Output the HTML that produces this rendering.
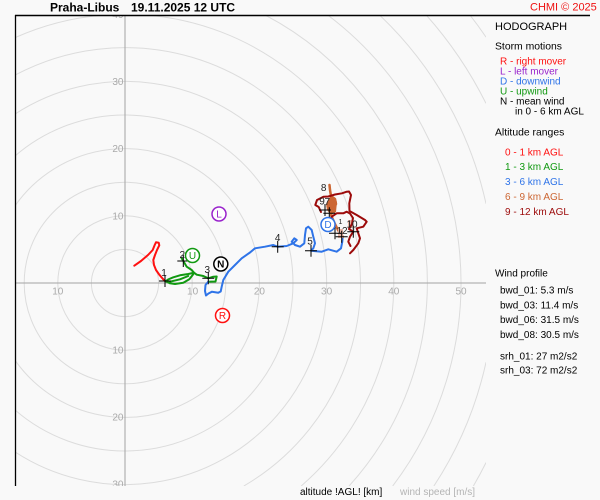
<!DOCTYPE html>
<html><head><meta charset="utf-8"><style>
html,body{margin:0;padding:0;background:#f9f9f9;width:600px;height:500px;overflow:hidden;}
svg{display:block;font-family:"Liberation Sans",sans-serif;}
</style></head><body>
<svg width="600" height="500" viewBox="0 0 600 500" xmlns="http://www.w3.org/2000/svg">
<rect width="600" height="500" fill="#f9f9f9"/>
<defs><clipPath id="c"><rect x="15" y="15" width="471" height="471"/></clipPath></defs>
<g clip-path="url(#c)" fill="none" stroke="#dcdcdc" stroke-width="1">
<circle cx="125" cy="283" r="33.6"/><circle cx="125" cy="283" r="67.2"/><circle cx="125" cy="283" r="100.8"/>
<path d="M15,205.8 A134.4,134.4 0 1 1 15,360.2"/>
<path d="M15,156 A168,168 0 1 1 15,410"/>
<path d="M15,114.1 A201.6,201.6 0 1 1 15,451.9"/>
<path d="M15,75.1 A235.2,235.2 0 0 1 243.8,486"/>
<path d="M15,37.7 A268.8,268.8 0 0 1 104.3,15"/>
<path d="M145.7,15 A268.8,268.8 0 0 1 301.2,486"/>
<path d="M265.1,15 A302.4,302.4 0 0 1 349.1,486"/>
<path d="M327.7,15 A336,336 0 0 1 392.7,486"/>
<path d="M379.5,15 A369.6,369.6 0 0 1 486,203.7"/>
<path d="M486,362.3 A369.6,369.6 0 0 1 433.9,486"/>
<path d="M426.2,15 A403.2,403.2 0 0 1 486,103.4"/>
<path d="M486,462.6 A403.2,403.2 0 0 1 473.4,486"/>
<path d="M469.9,15 A436.8,436.8 0 0 1 486,37.1"/>
</g>
<g clip-path="url(#c)">
<line x1="15" y1="283" x2="486" y2="283" stroke="#a4a4a4" stroke-width="1"/>
<line x1="125" y1="15" x2="125" y2="486" stroke="#a4a4a4" stroke-width="1"/>
<g font-size="10" fill="#aaaaaa">
<g text-anchor="middle">
<text x="57.8" y="294.5">10</text><text x="192.6" y="294.5">10</text><text x="259.4" y="294.5">20</text>
<text x="326.6" y="294.5">30</text><text x="393.8" y="294.5">40</text><text x="461" y="294.5">50</text>
</g>
<g text-anchor="end">
<text x="123.5" y="18">40</text><text x="123.5" y="85">30</text><text x="123.5" y="152">20</text><text x="123.5" y="219.3">10</text>
<text x="123.5" y="353.5">10</text><text x="123.5" y="420.5">20</text><text x="123.5" y="487.5">30</text>
</g>
</g>
</g>
<!-- frame -->
<line x1="15.5" y1="15" x2="15.5" y2="486" stroke="#000" stroke-width="1.3"/>
<line x1="15" y1="15.5" x2="590" y2="15.5" stroke="#000" stroke-width="1.4"/>

<!-- traces -->
<g fill="none" stroke-linejoin="round" stroke-linecap="round">
<path stroke="#ff1111" stroke-width="2" d="M134.3,265.7 L141,261 L148,255 L152.7,250 L154.7,245 L156,242.3 L158.7,242.7 L159.3,245.3 L157,250 L155,255 L153.3,260 L154,265 L156,270 L159.3,274.7 L163,279 L165,281"/>
<path stroke="#119911" stroke-width="2" d="M165,281 L170,283.3 L175,284 L183.3,282.7 L189.3,279.3 L192.7,275 L194,272.7 L188.3,274 L180,275.3 L173.3,277.3 L168,279.5 L166,281 M170,281.7 L180,279.3 L188.3,276 M181.5,258 L183.3,261 L186.7,266.7 L191.7,270 L194,272.7 L196.7,274.7 L203.3,276 L208.3,278.3 L213.3,276.7 L216.7,276.5 L215.5,281.5 L208.3,281.7"/>
<path stroke="#2f74e8" stroke-width="2" d="M208.3,281.7 L205.5,285 L205,291 L206,295.5 L208.5,293.5 L212,291.7 L218.3,292.7 L220.7,291.5 L221.7,286.7 L223.3,280 L228.3,271.7 L235,265 L241.7,258.3 L250,252.5 L255,248.3 L265,246.7 L273.3,245 L277.7,246.7 L286.7,246 L293.3,243.3 L296.7,240 L294.3,238.3 L291.7,241.7 L295,245 L300,246.7 L304.3,243.3 L305,235 L306,228.3 L308.3,226.7 L311.7,230 L313.3,236.7 L315,243.3 L313.3,248.3 L311,250.7 L321.7,251.7 L328.3,249.3 L336.7,251.7 L341,248.3 L342.3,241.7 L342.7,236.7"/>
<path stroke="#cc6633" stroke-width="2.5" d="M342.7,236.7 L338,230 L334,222 L331,215 L333,209 L336,204 L335,199 L331,196 L330,190 L329.5,185"/>
<path fill="#cc6633" stroke="none" d="M326,204 L330,197 L334,197 L337,202 L336,212 L331,215 L327,210 Z"/>
<rect x="348" y="220" width="5" height="8" fill="#e8b4a4"/>
<rect x="338" y="229" width="5" height="9" fill="#e8b4a4"/>
<path stroke="#9c0a0a" stroke-width="2" d="M350,253.3 L353.3,250 L358.3,243.3 L360,238.3 L358.3,233.3 L356.7,228.3 L363.3,226.7 L366.7,221.7 L365,220 L356.7,215 L349.5,211 L349.3,203.3 L351,195 L349,191.5 L346.7,191.7 L342,193.3 L335,194.5 L328.3,196.5 L323.7,196.7 L317,200 L315.3,205 L318.7,207 L321,212"/>
<path stroke="#9c0a0a" stroke-width="2" d="M330,221.7 L331.7,216.7 L336.7,213.3 L343.3,213.3 L346.7,211.7 L350,213.5 L353,218 L352,224 L349,229 L353.3,231.7 L350,236.7 L348.3,241.7 L350.5,246"/>
</g>

<!-- crosses -->
<g stroke="#000" stroke-width="1">
<path d="M159,281 h12 M165,275 v12"/>
<path d="M177.3,261 h12 M183.3,255 v12"/>
<path d="M202.3,278.3 h12 M208.3,272.3 v12"/>
<path d="M271.7,246.7 h12 M277.7,240.7 v12"/>
<path d="M305,250.7 h12 M311,244.7 v12"/>
<path d="M319,210 h12 M325,204 v12"/>
<path d="M323.3,213.3 h12 M329.3,207.3 v12"/>
<path d="M329,233.3 h12 M335,227.3 v12"/>
<path d="M335.7,236.7 h12 M341.7,230.7 v12"/>
<path d="M347.3,231.7 h12 M353.3,225.7 v12"/>
</g>
<g font-size="10" fill="#222" text-anchor="middle">
<text x="164" y="276">1</text>
<text x="182.3" y="258">2</text>
<text x="207.3" y="273">3</text>
<text x="277.7" y="241">4</text>
<text x="310" y="244.5">5</text>
<text x="323.7" y="191">8</text>
<text x="322" y="204.3">9</text>
<text x="327.3" y="205">7</text>
<text x="340.5" y="224" font-size="7">1</text>
<text x="352" y="227.5">10</text>
<text x="342" y="234">12</text>
</g>

<!-- storm motion markers -->
<g stroke-width="1.5" fill="#fff" font-size="10" text-anchor="middle">
<circle cx="222.5" cy="315.5" r="7" stroke="#ff1111"/><text x="222.5" y="319.2" fill="#ff1111" stroke="none">R</text>
<circle cx="219" cy="214" r="7" stroke="#9922cc"/><text x="219" y="217.7" fill="#9922cc" stroke="none">L</text>
<circle cx="328" cy="224.5" r="7" stroke="#2f74e8"/><text x="328" y="228.2" fill="#2f74e8" stroke="none">D</text>
<circle cx="192.5" cy="255.5" r="7" stroke="#119911"/><text x="192.5" y="259.2" fill="#119911" stroke="none">U</text>
<circle cx="220.8" cy="264" r="7" stroke="#000"/><text x="220.8" y="267.7" fill="#000" stroke="none" font-weight="bold">N</text>
</g>

<!-- title -->
<text x="50" y="11.5" font-size="12" font-weight="bold" fill="#000">Praha-Libus</text>
<text x="131" y="11.5" font-size="12" font-weight="bold" fill="#000">19.11.2025 12 UTC</text>
<text x="530" y="10.7" font-size="11" fill="#ee1111">CHMI © 2025</text>

<!-- legend -->
<text x="495" y="30" font-size="11" fill="#000">HODOGRAPH</text>
<text x="495" y="49.5" font-size="10.4" fill="#000">Storm motions</text>
<g font-size="10">
<text x="500" y="64.5" fill="#ff1111">R - right mover</text>
<text x="500" y="74.5" fill="#9922cc">L - left mover</text>
<text x="500" y="84.5" fill="#2f74e8">D - downwind</text>
<text x="500" y="94.5" fill="#119911">U - upwind</text>
<text x="500" y="104.5" fill="#000">N - mean wind</text>
<text x="515" y="114.5" fill="#000">in 0 - 6 km AGL</text>
</g>
<text x="495" y="135.5" font-size="10.4" fill="#000">Altitude ranges</text>
<g font-size="10">
<text x="505" y="155.5" fill="#ff1111">0 - 1 km AGL</text>
<text x="505" y="170" fill="#119911">1 - 3 km AGL</text>
<text x="505" y="185" fill="#2f74e8">3 - 6 km AGL</text>
<text x="505" y="200" fill="#cc6633">6 - 9 km AGL</text>
<text x="505" y="215" fill="#9c0a0a">9 - 12 km AGL</text>
</g>
<g font-size="10" fill="#000">
<text x="495" y="276.3">Wind profile</text>
<text x="500" y="293.7">bwd_01: 5.3 m/s</text>
<text x="500" y="308.3">bwd_03: 11.4 m/s</text>
<text x="500" y="323">bwd_06: 31.5 m/s</text>
<text x="500" y="338">bwd_08: 30.5 m/s</text>
<text x="500" y="359.5">srh_01: 27 m2/s2</text>
<text x="500" y="373.5">srh_03: 72 m2/s2</text>
</g>

<!-- bottom labels -->
<text x="300" y="495" font-size="10" fill="#000">altitude !AGL! [km]</text>
<text x="400" y="495" font-size="10" fill="#b4b4b4">wind speed [m/s]</text>
</svg>
</body></html>
